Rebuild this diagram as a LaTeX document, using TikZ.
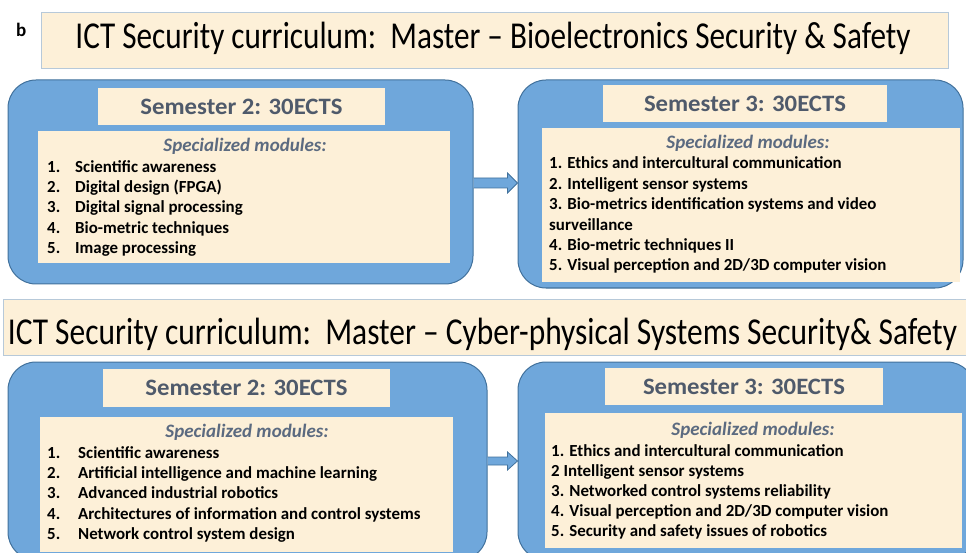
\documentclass[tikz,border=0pt]{standalone}
\usepackage{fontspec}
\usepackage{graphicx}
\setmainfont{Carlito}
\usetikzlibrary{calc}
\definecolor{cream}{HTML}{FDF0D8}
\definecolor{creamline}{HTML}{B7C9D9}
\definecolor{bluefill}{HTML}{6FA7DB}
\definecolor{blueline}{HTML}{41719C}
\definecolor{slate}{HTML}{4F5A6B}
\definecolor{slateit}{HTML}{5B6A80}
\tikzset{
  titlebox/.style={draw=creamline, line width=0.8pt, fill=cream, inner sep=0pt},
  bluebox/.style={draw=blueline, line width=1pt, fill=bluefill, rounded corners=28pt, inner sep=0pt},
  headbox/.style={fill=cream, inner sep=0pt, text=slate, font=\fontsize{23.5}{26}\selectfont\bfseries},
  listbox/.style={fill=cream, inner sep=0pt},
  titletext/.style={anchor=base, inner sep=0pt, font=\fontsize{38}{42}\selectfont},
  spectext/.style={anchor=base, inner sep=0pt, text=slateit, font=\fontsize{19}{22}\selectfont\bfseries\itshape},
  itemtext/.style={anchor=base west, inner sep=0pt, font=\fontsize{16.9}{20}\selectfont\bfseries},
  blockarrow/.style={draw=blueline, line width=0.8pt, fill=bluefill}
}
\begin{document}
\begin{tikzpicture}[x=1pt,y=-1pt]
\useasboundingbox (0,0) rectangle (966,553);
\clip (0,0) rectangle (966,553);
% label
\node[anchor=base west, inner sep=0pt, font=\fontsize{19}{22}\selectfont\bfseries] (lab) at (16,37) {b};
% ---------- upper part ----------
\node[titlebox, minimum width=907pt, minimum height=56pt] (title1) at (494.5,40) {};
\node[titletext] (title1t) at (493,49) {\resizebox{835pt}{\height}{ICT Security curriculum:\ \ Master -- Bioelectronics Security \& Safety}};

\node[bluebox, minimum width=465pt, minimum height=204pt] (blueA) at (240.5,182) {};
\node[headbox, minimum width=287pt, minimum height=37pt] (headA) at (241.5,106.5) {\resizebox{202pt}{\height}{Semester 2: 30ECTS}};
\node[listbox, minimum width=412pt, minimum height=132pt] (listA) at (244,197) {};
\node[spectext] (specA) at (245,152) {Specialized modules:};
\node[itemtext] (a1n) at (47,173) {1.};
\node[itemtext] (a1) at (75,173) {Scientific awareness};
\node[itemtext] (a2n) at (47,193) {2.};
\node[itemtext] (a2) at (75,193) {Digital design (FPGA)};
\node[itemtext] (a3n) at (47,213) {3.};
\node[itemtext] (a3) at (75,213) {Digital signal processing};
\node[itemtext] (a4n) at (47,234) {4.};
\node[itemtext] (a4) at (75,234) {Bio-metric techniques};
\node[itemtext] (a5n) at (47,254) {5.};
\node[itemtext] (a5) at (75,254) {Image processing};

\node[bluebox, minimum width=445pt, minimum height=208pt] (blueB) at (740.5,184) {};
\node[headbox, minimum width=284pt, minimum height=37pt] (headB) at (745,103.5) {\resizebox{202pt}{\height}{Semester 3: 30ECTS}};
\node[listbox, minimum width=418pt, minimum height=154pt] (listB) at (751,205) {};
\node[spectext] (specB) at (748,149) {Specialized modules:};
\node[itemtext] (b1) at (549,169) {1. Ethics and intercultural communication};
\node[itemtext] (b2) at (549,190) {2. Intelligent sensor systems};
\node[itemtext] (b3) at (549,210) {3. Bio-metrics identification systems and video};
\node[itemtext] (b3b) at (549,231) {surveillance};
\node[itemtext] (b4) at (549,251) {4. Bio-metric techniques II};
\node[itemtext] (b5) at (549,271) {5. Visual perception and 2D/3D computer vision};

\coordinate (arAs) at (blueA.east |- 0,183);
\coordinate (arAe) at (blueB.west |- 0,183);
\draw[blockarrow] ($(arAs)+(0,-5)$) -- ($(arAe)+(-10,-5)$) -- ($(arAe)+(-10,-10)$) -- (arAe)
  -- ($(arAe)+(-10,10)$) -- ($(arAe)+(-10,5)$) -- ($(arAs)+(0,5)$);

% ---------- lower part ----------
\node[titlebox, minimum width=972pt, minimum height=56pt] (title2) at (489,327) {};
\node[titletext] (title2t) at (482.5,344) {\resizebox{949pt}{\height}{ICT Security curriculum:\ \ Master -- Cyber-physical Systems Security\& Safety}};

\node[bluebox, minimum width=479pt, minimum height=198pt] (blueC) at (247.5,461) {};
\node[headbox, minimum width=287pt, minimum height=38pt] (headC) at (246.5,388) {\resizebox{202pt}{\height}{Semester 2: 30ECTS}};
\node[listbox, minimum width=413pt, minimum height=135pt] (listC) at (246.5,484.5) {};
\node[spectext] (specC) at (247,437) {Specialized modules:};
\node[itemtext] (c1n) at (47,458) {1.};
\node[itemtext] (c1) at (78,458) {Scientific awareness};
\node[itemtext] (c2n) at (47,478) {2.};
\node[itemtext] (c2) at (78,478) {Artificial intelligence and machine learning};
\node[itemtext] (c3n) at (47,498) {3.};
\node[itemtext] (c3) at (78,498) {Advanced industrial robotics};
\node[itemtext] (c4n) at (47,519) {4.};
\node[itemtext] (c4) at (78,519) {Architectures of information and control systems};
\node[itemtext] (c5n) at (47,539) {5.};
\node[itemtext] (c5) at (78,539) {Network control system design};

\node[bluebox, minimum width=457pt, minimum height=198pt] (blueD) at (746.5,461) {};
\node[headbox, minimum width=278pt, minimum height=37pt] (headD) at (744,386.5) {\resizebox{202pt}{\height}{Semester 3: 30ECTS}};
\node[listbox, minimum width=417pt, minimum height=135pt] (listD) at (753.5,480.5) {};
\node[spectext] (specD) at (753,435) {Specialized modules:};
\node[itemtext] (d1) at (551,456) {1. Ethics and intercultural communication};
\node[itemtext] (d2) at (551,476) {2 Intelligent sensor systems};
\node[itemtext] (d3) at (551,496) {3. Networked control systems reliability};
\node[itemtext] (d4) at (551,516) {4. Visual perception and 2D/3D computer vision};
\node[itemtext] (d5) at (551,536) {5. Security and safety issues of robotics};

\coordinate (arCs) at (blueC.east |- 0,461);
\coordinate (arCe) at (blueD.west |- 0,461);
\draw[blockarrow] ($(arCs)+(0,-4)$) -- ($(arCe)+(-10,-4)$) -- ($(arCe)+(-10,-9)$) -- (arCe)
  -- ($(arCe)+(-10,9)$) -- ($(arCe)+(-10,4)$) -- ($(arCs)+(0,4)$);
\end{tikzpicture}
\end{document}
